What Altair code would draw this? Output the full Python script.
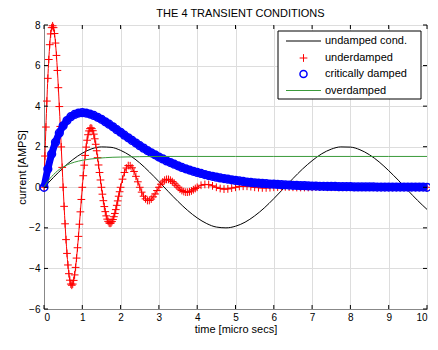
import altair as alt
import numpy as np
import pandas as pd

# ---------------- data ----------------
undamped_t = np.round(np.arange(0, 10.001, 0.25), 2)
undamped_i = [0, 0.49, 0.96, 1.36, 1.68, 1.90, 1.99, 1.97, 1.82, 1.56,
              1.20, 0.76, 0.28, -0.22, -0.70, -1.14, -1.51, -1.79, -1.96, -2.00,
              -1.92, -1.72, -1.41, -1.02, -0.56, -0.07, 0.43, 0.90, 1.31, 1.65,
              1.88, 1.99, 1.98, 1.85, 1.60, 1.25, 0.82, 0.35, -0.15, -0.64,
              -1.09]

under_t = list(np.round(np.arange(0, 4.001, 0.05), 2)) + list(np.round(np.arange(4.1, 10.001, 0.1), 2))
under_i = [0, 2.97, 5.37, 7.03, 7.87, 7.87, 7.11, 5.76, 3.98, 1.99,
           0, -1.80, -3.26, -4.26, -4.77, -4.77, -4.32, -3.49, -2.42, -1.21,
           0, 1.09, 1.98, 2.59, 2.89, 2.89, 2.62, 2.12, 1.46, 0.73,
           0, -0.66, -1.20, -1.57, -1.76, -1.76, -1.59, -1.29, -0.89, -0.44,
           0, 0.40, 0.73, 0.95, 1.07, 1.06, 0.96, 0.78, 0.54, 0.27,
           0, -0.24, -0.44, -0.57, -0.65, -0.65, -0.58, -0.47, -0.33, -0.16,
           0, 0.15, 0.26, 0.35, 0.39, 0.39, 0.35, 0.28, 0.20, 0.10,
           0, -0.09, -0.16, -0.21, -0.24, -0.24, -0.22, -0.18, -0.12, -0.06,
           0,
           0.10, 0.14, 0.13, 0.07, 0, -0.06, -0.09, -0.08, -0.04, 0,
           0.04, 0.05, 0.05, 0.03, 0, -0.02, -0.03, -0.03, -0.02, 0,
           0.01, 0.02, 0.02, 0.01, 0, -0.01, -0.01, -0.01, -0.01, 0,
           0.01, 0.01, 0.01, 0, 0, 0, 0, 0, 0, 0,
           0, 0, 0, 0, 0, 0, 0, 0, 0, 0,
           0, 0, 0, 0, 0, 0, 0, 0, 0, 0]
# extra underdamped samples in between (steep first cycles)
under_t_mid = list(np.round(np.arange(0.025, 2.0, 0.05), 3))
under_i_mid = [1.54, 4.25, 6.30, 7.56, 7.96, 7.58, 6.50, 4.91, 3.00, 0.98,
               -0.94, -2.58, -3.83, -4.58, -4.83, -4.59, -3.95, -2.98, -1.82, -0.60,
               0.57, 1.57, 2.32, 2.78, 2.93, 2.79, 2.39, 1.80, 1.10, 0.36,
               -0.34, -0.95, -1.41, -1.68, -1.78, -1.69, -1.45, -1.10, -0.67, -0.22]

crit_t = np.round(np.arange(0, 10.001, 0.1), 2)
crit_i = [0, 0.90, 1.64, 2.22, 2.68, 3.03, 3.29, 3.48, 3.59, 3.66,
          3.68, 3.66, 3.61, 3.54, 3.45, 3.35, 3.23, 3.11, 2.98, 2.84,
          2.71, 2.57, 2.44, 2.31, 2.18, 2.05, 1.93, 1.81, 1.70, 1.60,
          1.49, 1.40, 1.30, 1.22, 1.14, 1.06, 0.98, 0.91, 0.85, 0.79,
          0.73, 0.68, 0.63, 0.58, 0.54, 0.50, 0.46, 0.43, 0.40, 0.37,
          0.34, 0.31, 0.29, 0.26, 0.24, 0.22, 0.21, 0.19, 0.18, 0.16,
          0.15, 0.14, 0.13, 0.12, 0.11, 0.10, 0.09, 0.08, 0.08, 0.07,
          0.06, 0.06, 0.05, 0.05, 0.04, 0.04, 0.04, 0.03, 0.03, 0.03,
          0.03, 0.02, 0.02, 0.02, 0.02, 0.02, 0.02, 0.01, 0.01, 0.01,
          0.01, 0.01, 0.01, 0.01, 0.01, 0.01, 0.01, 0.01, 0.01, 0.01,
          0.00]

over_t = [0, 0.1, 0.2, 0.3, 0.4, 0.5, 0.6, 0.7, 0.8, 0.9, 1.0, 1.2, 1.4, 1.6, 1.8,
          2.0, 2.5, 3.0, 4.0, 5.0, 6.0, 7.0, 8.0, 9.0, 10.0]
over_i = [0, 0.30, 0.53, 0.72, 0.88, 1.00, 1.10, 1.18, 1.24, 1.29, 1.33, 1.39, 1.43, 1.46, 1.48,
          1.49, 1.51, 1.52, 1.52, 1.52, 1.52, 1.52, 1.52, 1.52, 1.52]

x_ticks = [0, 1, 2, 3, 4, 5, 6, 7, 8, 9, 10]
y_ticks = [-6, -4, -2, 0, 2, 4, 6, 8]

legend_labels = ["undamped cond.", "underdamped", "critically damped", "overdamped"]
title_text = "THE 4 TRANSIENT CONDITIONS"
x_title = "time [micro secs]"
y_title = "current [AMPS]"

# ---------------- chart ----------------
W, H = 383, 284
FONT = "Liberation Sans"
PLUS = "M-1,0L1,0M0,-1L0,1"

xs = alt.Scale(domain=[0, 10], nice=False, zero=False)
ys = alt.Scale(domain=[-6, 8], nice=False, zero=False)
X = alt.X("t:Q", scale=xs, title=x_title,
          axis=alt.Axis(values=x_ticks, format="d", tickSize=0, labelPadding=3, titlePadding=1,
                        titleFontWeight=400))
Y = alt.Y("i:Q", scale=ys, title=y_title,
          axis=alt.Axis(values=y_ticks, format="d", tickSize=0, labelPadding=4, titlePadding=1,
                        titleFontWeight=400))

df_u = pd.DataFrame({"t": undamped_t, "i": undamped_i})
df_ud = pd.DataFrame({"t": list(under_t) + under_t_mid, "i": under_i + under_i_mid}).sort_values("t")
df_c = pd.DataFrame({"t": crit_t, "i": crit_i})
df_o = pd.DataFrame({"t": over_t, "i": over_i})

black = alt.Chart(df_u).mark_line(color="black", strokeWidth=1, interpolate="monotone").encode(x=X, y=Y)
red_line = alt.Chart(df_ud).mark_line(color="#ff0000", strokeWidth=1, interpolate="monotone").encode(x=X, y=Y)
red_pts = alt.Chart(df_ud).mark_point(shape=PLUS, filled=False, size=60, strokeWidth=1,
                                      color="#ff0000", opacity=1).encode(x=X, y=Y)
blue_line = alt.Chart(df_c).mark_line(color="#0000ff", strokeWidth=7, interpolate="monotone").encode(x=X, y=Y)
blue_pts = alt.Chart(df_c).mark_point(shape="circle", filled=False, size=60, strokeWidth=1.5,
                                      color="#0000ff", opacity=1).encode(x=X, y=Y)
green = alt.Chart(df_o).mark_line(color="#3a9a3a", strokeWidth=1, interpolate="monotone").encode(x=X, y=Y)

df_xt = pd.DataFrame({"t": x_ticks})
df_yt = pd.DataFrame({"i": y_ticks})
TL = 4
xt_bottom = alt.Chart(df_xt).mark_rule(color="black", strokeWidth=1).encode(
    x=X, y=alt.value(H), y2=alt.value(H - TL))
xt_top = alt.Chart(df_xt).mark_rule(color="black", strokeWidth=1).encode(
    x=X, y=alt.value(0), y2=alt.value(TL))
yt_left = alt.Chart(df_yt).mark_rule(color="black", strokeWidth=1).encode(
    y=Y, x=alt.value(0), x2=alt.value(TL))
yt_right = alt.Chart(df_yt).mark_rule(color="black", strokeWidth=1).encode(
    y=Y, x=alt.value(W), x2=alt.value(W - TL))

one = alt.Data(values=[{"k": 0}])
# legend placed from the right edge of the plot
LX1 = W - 6
LX0 = LX1 - 143
LY0, LY1 = 6, 74
rows = [16, 33, 49, 65.5]
SX0 = LX0 + 8
SX1 = SX0 + 35
SC = (SX0 + SX1) / 2
TX = LX0 + 47

leg_box = alt.Chart(one).mark_rect(fill="white", stroke="black", strokeWidth=1).encode(
    x=alt.value(LX0), x2=alt.value(LX1), y=alt.value(LY0), y2=alt.value(LY1))
leg_l1 = alt.Chart(one).mark_rule(color="black", strokeWidth=1).encode(
    x=alt.value(SX0), x2=alt.value(SX1), y=alt.value(rows[0]))
leg_l2 = alt.Chart(one).mark_point(shape=PLUS, filled=False, size=60, strokeWidth=1,
                                   color="#ff0000", opacity=1).encode(
    x=alt.value(SC), y=alt.value(rows[1]))
leg_l3 = alt.Chart(one).mark_point(shape="circle", filled=False, size=50, strokeWidth=1.5,
                                   color="#0000ff", opacity=1).encode(
    x=alt.value(SC), y=alt.value(rows[2]))
leg_l4 = alt.Chart(one).mark_rule(color="#3a9a3a", strokeWidth=1).encode(
    x=alt.value(SX0), x2=alt.value(SX1), y=alt.value(rows[3]))
leg_texts = [
    alt.Chart(one).mark_text(align="left", baseline="middle", font=FONT, fontSize=11,
                             color="black").encode(
        x=alt.value(TX), y=alt.value(r), text=alt.value(lbl))
    for lbl, r in zip(legend_labels, rows)
]
title_mark = alt.Chart(one).mark_text(align="center", baseline="alphabetic", font=FONT,
                                      fontSize=11, color="black").encode(
    x=alt.value(W / 2 + 5), y=alt.value(-8), text=alt.value(title_text))

chart = alt.layer(
    black, red_line, red_pts, blue_line, blue_pts, green,
    xt_bottom, xt_top, yt_left, yt_right,
    leg_box, leg_l1, leg_l2, leg_l3, leg_l4, *leg_texts, title_mark
).properties(
    width=W, height=H,
    padding={"left": 36, "top": 17, "right": 3, "bottom": 29},
    autosize=alt.AutoSizeParams(type="none"),
).configure_view(
    stroke="black", strokeWidth=1
).configure_axis(
    grid=False, domain=False, ticks=False, tickSize=0,
    labelFont=FONT, labelFontSize=11, labelColor="black",
    titleFont=FONT, titleFontSize=11, titleFontWeight=400, titleColor="black",
).configure(background="white")

chart.save("out.html", embed_options={"renderer": "svg", "actions": False})
